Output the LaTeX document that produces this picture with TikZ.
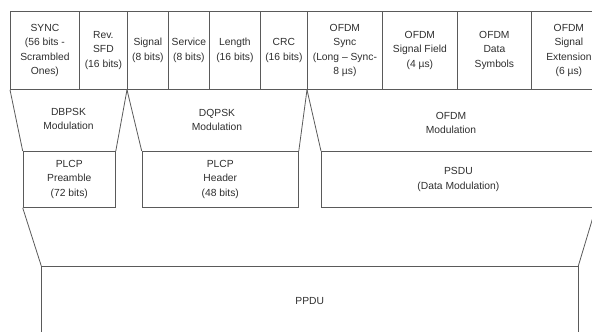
\documentclass[tikz,border=0pt]{standalone}
\usepackage{fontspec}
\setmainfont{Liberation Sans}
\usetikzlibrary{positioning}

\definecolor{linegray}{HTML}{5A5A5A}
\definecolor{textgray}{HTML}{2E2E2E}
\newcommand{\fieldfont}{\fontsize{10.3}{14.5}\selectfont}

\tikzset{
  field/.style={draw=linegray, line width=0.8pt, inner sep=0pt, anchor=north west,
    minimum height=78pt, align=center, font=\fieldfont, text=textgray},
  unitbox/.style={field, minimum height=56pt},
  modlabel/.style={align=center, font=\fieldfont, text=textgray},
  slant/.style={draw=linegray, line width=0.8pt}
}

\begin{document}
\begin{tikzpicture}[x=1pt,y=-1pt]
  \useasboundingbox (0,0) rectangle (592,332);
  \clip (0,0) rectangle (592,332);
  % top row of fields
  \node[field, minimum width=69pt] (sync) at (10,11) {SYNC\\(56 bits -\\Scrambled\\Ones)};
  \node[field, minimum width=48pt] (sfd) at (79,11) {Rev.\\SFD\\(16 bits)};
  \node[field, minimum width=41pt] (signal) at (127,11) {Signal\\(8 bits)};
  \node[field, minimum width=41pt] (service) at (168,11) {Service\\(8 bits)};
  \node[field, minimum width=51pt] (length) at (209,11) {Length\\(16 bits)};
  \node[field, minimum width=47pt] (crc) at (260,11) {CRC\\(16 bits)};
  \node[field, minimum width=75pt] (osync) at (307,11) {OFDM\\Sync\\(Long – Sync-\\8 µs)};
  \node[field, minimum width=75pt] (osig) at (382,11) {OFDM\\Signal Field\\(4 µs)};
  \node[field, minimum width=74pt] (odata) at (457,11) {OFDM\\Data\\Symbols};
  \node[field, minimum width=75pt] (oext) at (531,11) {OFDM\\Signal\\Extension\\(6 µs)};

  % PLCP units
  \node[unitbox, minimum width=92.3pt] (pre) at (22.7,151) {PLCP\\Preamble\\(72 bits)};
  \node[unitbox, minimum width=156.3pt] (hdr) at (141.7,151) {PLCP\\Header\\(48 bits)};
  \node[unitbox, minimum width=274pt] (psdu) at (321,151) {PSDU\\(Data Modulation)};
  \node[unitbox, minimum width=536.2pt, minimum height=70pt] (ppdu) at (41.3,266) {PPDU};

  % modulation trapezoids
  \draw[slant] (sync.south west) -- (pre.north west);
  \draw[slant] (signal.south west) -- (pre.north east);
  \draw[slant] (signal.south west) -- (hdr.north west);
  \draw[slant] (osync.south west) -- (hdr.north east);
  \draw[slant] (osync.south west) -- (psdu.north west);
  \draw[slant] (oext.south east) -- (psdu.north east);
  \draw[slant] (pre.south west) -- (ppdu.north west);
  \draw[slant] (psdu.south east) -- (ppdu.north east);

  \node[modlabel] (dbpsk) at (68.5,119) {DBPSK\\Modulation};
  \node[modlabel] (dqpsk) at (217,120) {DQPSK\\Modulation};
  \node[modlabel] (ofdm) at (451,123) {OFDM\\Modulation};
\end{tikzpicture}
\end{document}
